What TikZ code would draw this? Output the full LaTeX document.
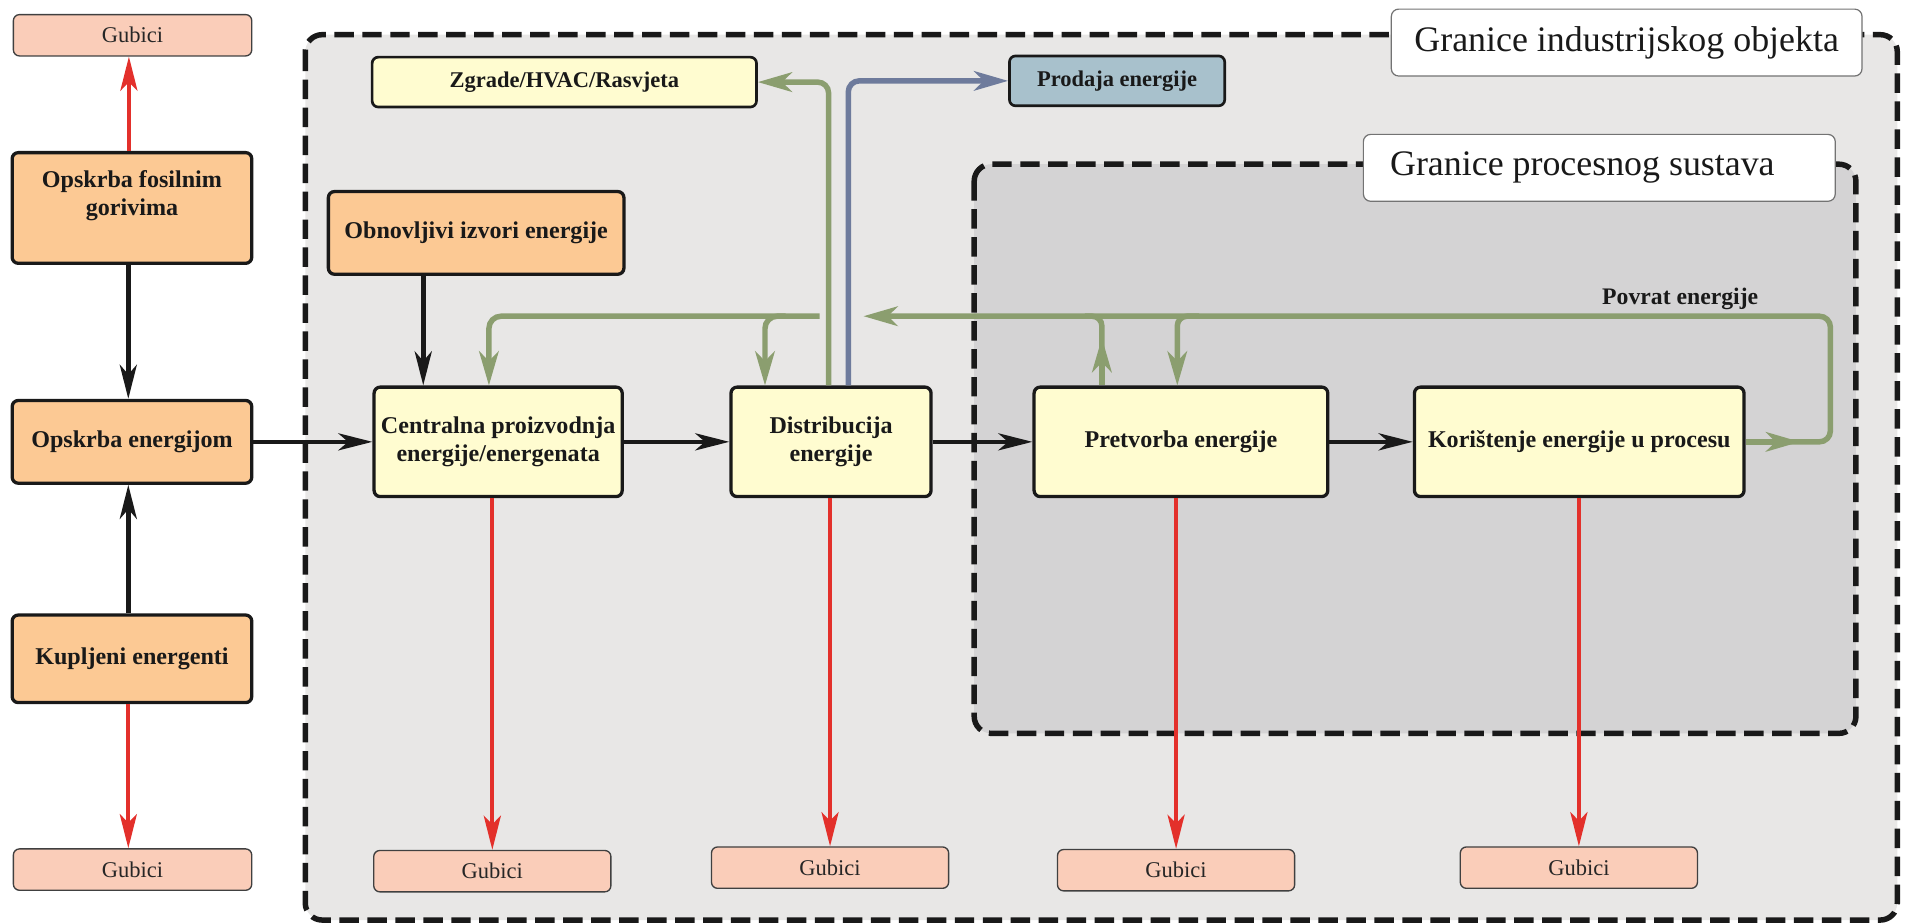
\documentclass[tikz,border=0pt]{standalone}
\usepackage{fontspec}
\setmainfont{Liberation Serif}
\usetikzlibrary{arrows.meta}
\definecolor{outerbg}{HTML}{E8E7E6}
\definecolor{innerbg}{HTML}{D4D3D4}
\definecolor{orng}{HTML}{FCC994}
\definecolor{ylw}{HTML}{FFFCD0}
\definecolor{loss}{HTML}{FACDB9}
\definecolor{sale}{HTML}{A8C1CC}
\definecolor{grncol}{HTML}{8B9E6F}
\definecolor{blucol}{HTML}{6E7B9C}
\definecolor{rd}{HTML}{E3302B}
\begin{document}
\begin{tikzpicture}[x=1pt,y=-1pt,
  box/.style={draw=black!90, line width=2.7pt, rounded corners=5pt, align=center, inner sep=0pt, text=black!90, font=\fontsize{19.8}{23.5}\selectfont\bfseries},
  srcbox/.style={box, fill=orng},
  procbox/.style={box, fill=ylw},
  smallbox/.style={box, line width=2.2pt, font=\fontsize{18.5}{22}\selectfont\bfseries},
  lossbox/.style={draw=black!75, line width=1.1pt, fill=loss, rounded corners=5pt, inner sep=0pt, minimum width=195pt, minimum height=34pt, font=\fontsize{18.5}{22}\selectfont, text=black!85},
  bndlbl/.style={draw=black!55, line width=1pt, fill=white, rounded corners=6pt, inner sep=0pt, minimum height=55pt, font=\fontsize{29.5}{33}\selectfont, text=black!90},
  bnd/.style={draw=black!90, line width=4.5pt, dash pattern=on 16pt off 7pt, rounded corners=14pt},
  blk/.style={draw=black!90, line width=3.8pt, -{Stealth[length=28pt,width=14pt,inset=8pt]}},
  redarr/.style={draw=rd, line width=3.4pt, -{Stealth[length=28pt,width=14pt,inset=7pt]}},
  gline/.style={draw=grncol, line width=4.5pt},
  garr/.style={gline, -{Stealth[length=28pt,width=16pt,inset=8pt]}},
  barr/.style={draw=blucol, line width=4.5pt, -{Stealth[length=28pt,width=16pt,inset=8pt]}},
]
\useasboundingbox (0,0) rectangle (1568,759);

% boundaries
\draw[bnd, fill=outerbg] (251,28.5) rectangle (1560,756.5);
\node[bndlbl, minimum width=387pt] (outerlbl) at (1337.5,35) {Granice industrijskog objekta};
\draw[bnd, fill=innerbg] (801,135) rectangle (1526,603);
\node[bndlbl, minimum width=388pt] (innerlbl) at (1315,138) {\makebox[388pt][l]{\hspace{22pt}Granice procesnog sustava}};

% left column
\node[lossbox, minimum width=196pt] (lossTL) at (109,29) {Gubici};
\node[srcbox, minimum width=197pt, minimum height=91pt] (fossil) at (108.5,171) {\raisebox{10pt}[\height][\depth]{\begin{tabular}{@{}c@{}}Opskrba fosilnim\\gorivima\end{tabular}}};
\node[srcbox, minimum width=197pt, minimum height=68pt] (supply) at (108.5,363.3) {Opskrba energijom};
\node[srcbox, minimum width=197pt, minimum height=72pt] (bought) at (108.5,541.7) {Kupljeni energenti};
\node[lossbox, minimum width=196pt] (lossBL) at (109,715) {Gubici};

% inner nodes
\node[smallbox, fill=ylw, minimum width=316pt, minimum height=41pt] (zgrade) at (464,67.5) {Zgrade/HVAC/Rasvjeta};
\node[smallbox, fill=sale, minimum width=177pt, minimum height=41pt] (prodaja) at (918.5,66.5) {Prodaja energije};
\node[srcbox, minimum width=243pt, minimum height=68pt] (obnov) at (391.5,191.5) {Obnovljivi izvori energije};
\node[procbox, minimum width=204pt, minimum height=90pt] (central) at (409.6,363.3) {Centralna proizvodnja\\energije/energenata};
\node[procbox, minimum width=164.5pt, minimum height=90pt] (distrib) at (683.3,363.3) {Distribucija\\energije};
\node[procbox, minimum width=241.5pt, minimum height=90pt] (pretv) at (971,363.3) {Pretvorba energije};
\node[procbox, minimum width=271pt, minimum height=90pt] (korist) at (1298.5,363.3) {Korištenje energije u procesu};

% losses
\node[lossbox] (lossC) at (404.8,716.3) {Gubici};
\node[lossbox] (lossD) at (682.5,713.4) {Gubici};
\node[lossbox] (lossP) at (967,715.5) {Gubici};
\node[lossbox] (lossK) at (1298.2,713.4) {Gubici};

\node[font=\fontsize{19.5}{22}\selectfont\bfseries, text=black!90] (povrat) at (1381.5,246) {Povrat energije};

% left column arrows
\draw[redarr] ([xshift=-2.5pt]fossil.north) -- ([xshift=-3pt]lossTL.south);
\draw[blk] ([xshift=-3pt]fossil.south) -- ([xshift=-3pt]supply.north);
\draw[blk] ([xshift=-3pt]bought.north) -- ([xshift=-3pt]supply.south);
\draw[redarr] ([xshift=-3pt]bought.south) -- ([xshift=-3.5pt]lossBL.north);
\draw[blk] (supply.east) -- (central.west);

% main chain
\draw[blk] ([xshift=-43.5pt]obnov.south) -- ([xshift=-61.6pt]central.north);
\draw[blk] (central.east) -- (distrib.west);
\draw[blk] (distrib.east) -- (pretv.west);
\draw[blk] (pretv.east) -- (korist.west);

% losses arrows
\draw[redarr] (central.south -| lossC.north) -- (lossC.north);
\draw[redarr] (distrib.south -| lossD.north) -- (lossD.north);
\draw[redarr] (pretv.south -| lossP.north) -- (lossP.north);
\draw[redarr] (korist.south -| lossK.north) -- (lossK.north);

% distribution outputs
\draw[garr, rounded corners=9pt] ([xshift=-2pt]distrib.north) |- (zgrade.east);
\draw[barr, rounded corners=9pt] ([xshift=14.2pt]distrib.north) |- (prodaja.west);

% feedback to central and distribution
\coordinate (fbL) at (674,260);
\coordinate (fbB) at (646,260);
\draw[garr, rounded corners=10pt] (fbL) -| ([xshift=-7.6pt]central.north);
\draw[garr, rounded corners=10pt] (fbB) -| ([xshift=-54.3pt]distrib.north);

% energy recovery loop
\coordinate (kout) at (1480,363.3);
\coordinate (kturn) at (1505,260);
\coordinate (rin) at (710,260);
\draw[garr] (korist.east) -- (kout);
\draw[garr, rounded corners=9pt] (1470,363.3) -| (kturn) -- (rin);
\coordinate (pup) at (906,260);
\coordinate (pdn) at (986,260);
\draw[garr] ([xshift=-65pt]pretv.north) -- ([xshift=-65pt, yshift=39pt]pretv.north);
\draw[gline, rounded corners=8pt] ([xshift=-65pt, yshift=30pt]pretv.north) |- ([xshift=-14pt]pup);
\draw[garr, rounded corners=8pt] (pdn) -| ([xshift=-3pt]pretv.north);
\end{tikzpicture}
\end{document}
